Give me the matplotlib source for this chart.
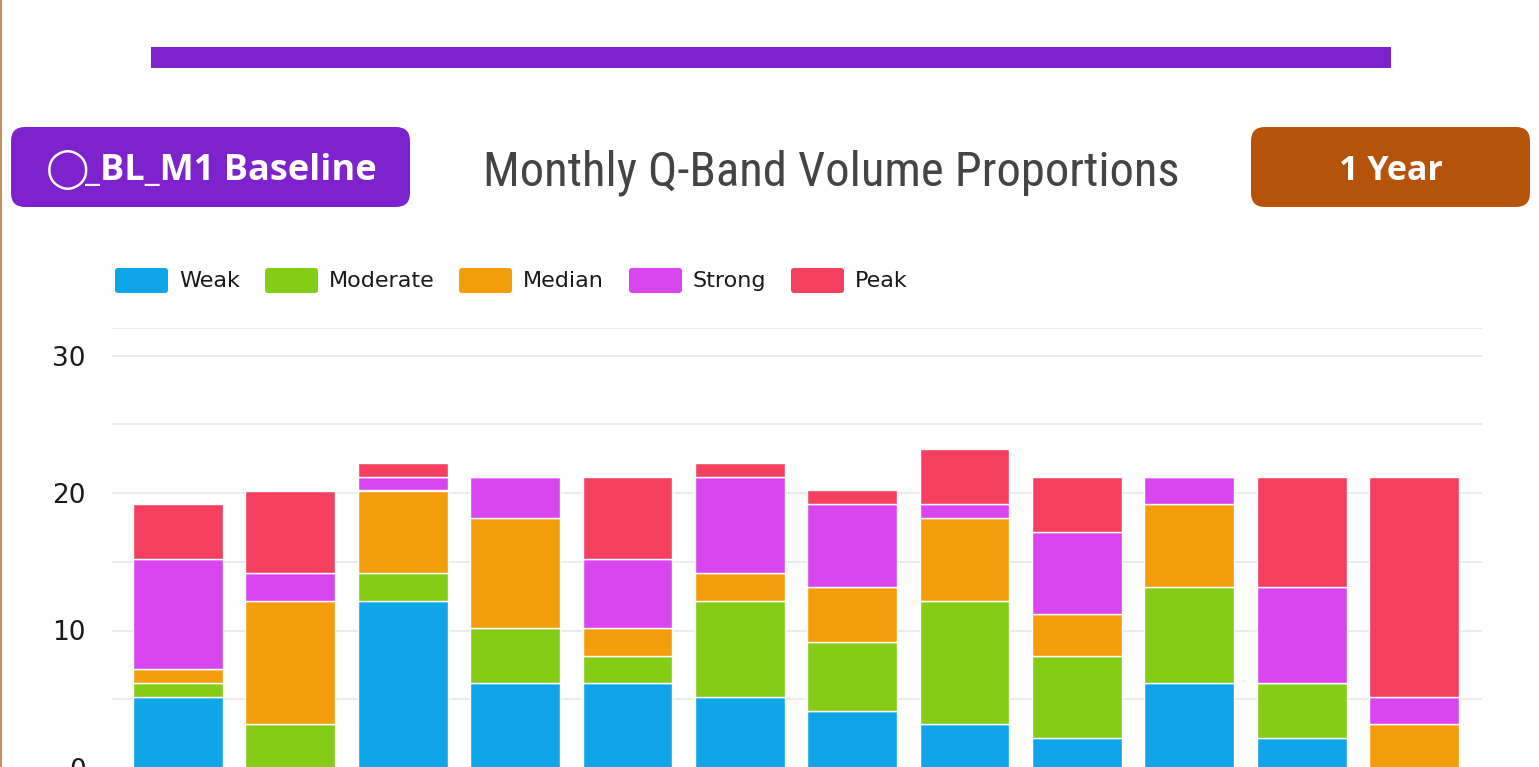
import matplotlib
matplotlib.use('Agg')
import matplotlib.pyplot as plt
from matplotlib.patches import FancyBboxPatch, Rectangle
import numpy as np

# ---------------- data ----------------
months = ['Jan', 'Feb', 'Mar', 'Apr', 'May', 'Jun',
          'Jul', 'Aug', 'Sep', 'Oct', 'Nov', 'Dec']
series_names = ['Weak', 'Moderate', 'Median', 'Strong', 'Peak']
weak = [5, 0, 12, 6, 6, 5, 4, 3, 2, 6, 2, 0]
moderate = [1, 3, 2, 4, 2, 7, 5, 9, 6, 7, 4, 0]
median = [1, 9, 6, 8, 2, 2, 4, 6, 3, 6, 0, 3]
strong = [8, 2, 1, 3, 5, 7, 6, 1, 6, 2, 7, 2]
peak = [4, 6, 1, 0, 6, 1, 1, 4, 4, 0, 8, 16]
y_ticks = [0, 10, 20, 30]
title_text = 'Monthly Q-Band Volume Proportions'
badge_left_text = '_BL_M1 Baseline'
badge_right_text = '1 Year'

colors = ['#0EA5E9', '#84CC16', '#F59E0B', '#D946EF', '#F43F5E']

W, H = 1539, 767
fig = plt.figure(figsize=(W / 100, H / 100), dpi=100)
fig.patch.set_facecolor('white')

# ---------------- grid axes ----------------
ax_l, ax_r, ax_t, ax_b = 112, 1482, 328, 768
ppu = (ax_b - ax_t) / 32.0
ax = fig.add_axes([ax_l / W, (H - ax_b) / H, (ax_r - ax_l) / W, (ax_b - ax_t) / H])
ax.set_facecolor('none')
step = 112.36
xlim = ((ax_l - 178) / step, 11 + (ax_r - 1414) / step)
ax.set_xlim(*xlim)
ax.set_ylim(0, 32)
ax.set_yticks(y_ticks)
ax.set_yticks([5, 15, 25], minor=True)
ax.grid(axis='y', which='both', color='#e8e8e8', linewidth=1.2, zorder=0)
ax.axhline(32, color='#e8e8e8', linewidth=1.2, zorder=0)
ax.set_xticks([])
ax.tick_params(axis='y', which='both', length=0, pad=19, labelsize=19,
               labelcolor='#1a1a1a')
for s in ax.spines.values():
    s.set_visible(False)

# ---------------- bar axes (same scale, drawn ~2.5px higher) ----------------
shift = 2.5
bb_bot = ax_b - shift + ppu  # pixel of value -1
bb_top = ax_t - shift        # pixel of value 32
axb = fig.add_axes([ax_l / W, (H - bb_bot) / H, (ax_r - ax_l) / W, (bb_bot - bb_top) / H])
axb.set_xlim(*xlim)
axb.set_ylim(-1, 32)
axb.axis('off')
axb.patch.set_alpha(0)

x = np.arange(len(months))
bottom = np.zeros(len(months))
for name, vals, c in zip(series_names, [weak, moderate, median, strong, peak], colors):
    v = np.array(vals, dtype=float)
    b0 = np.where(bottom == 0, -1.0, bottom)
    hgt = np.where(bottom == 0, v + 1.0, v)
    hgt = np.where(v == 0, 0, hgt)
    axb.bar(x, hgt, width=0.80, bottom=b0, color=c, edgecolor='white',
            linewidth=1.0, zorder=3)
    bottom += v

# ---------------- overlay ----------------
ov = fig.add_axes([0, 0, 1, 1])
ov.set_xlim(0, W)
ov.set_ylim(H, 0)
ov.axis('off')
ov.patch.set_alpha(0)

# left border
ov.add_patch(Rectangle((0, 0), 2, H, color='#cd8c5c', lw=0))
# top purple bar
ov.add_patch(Rectangle((151, 47), 1240, 21, color='#7E22CE', lw=0))

# left badge
ov.add_patch(FancyBboxPatch((11 + 14, 127 + 14), 399 - 28, 80 - 28,
                            boxstyle='round,pad=14', fc='#7E22CE', ec='none'))
ov.text(46, 170, '\u25EF', color='white', fontsize=28, ha='left', va='center',
        family=['DejaVu Sans'])
ov.text(85, 171, badge_left_text, color='white', fontsize=26, fontweight='bold',
        ha='left', va='center', family=['Open Sans', 'DejaVu Sans'])

# right badge
ov.add_patch(FancyBboxPatch((1251 + 14, 127 + 14), 279 - 28, 80 - 28,
                            boxstyle='round,pad=14', fc='#B45309', ec='none'))
ov.text(1391, 171, badge_right_text, color='white', fontsize=24.5, fontweight='bold',
        ha='center', va='center', family=['Open Sans', 'DejaVu Sans'])

# title
ov.text(831, 173, title_text, color='#444444', fontsize=35,
        ha='center', va='center',
        family=['Roboto Condensed', 'Liberation Sans Narrow', 'Roboto'])

# legend
box_x = [115, 265, 459, 629, 791]
for bx, name, c in zip(box_x, series_names, colors):
    ov.add_patch(FancyBboxPatch((bx + 3, 268 + 3), 53 - 6, 25 - 6,
                                boxstyle='round,pad=3', fc=c, ec='none'))
    ov.text(bx + 64, 281, name, color='#1a1a1a', fontsize=16,
            ha='left', va='center', family=['DejaVu Sans'])

fig.savefig('out.png', dpi=100)
